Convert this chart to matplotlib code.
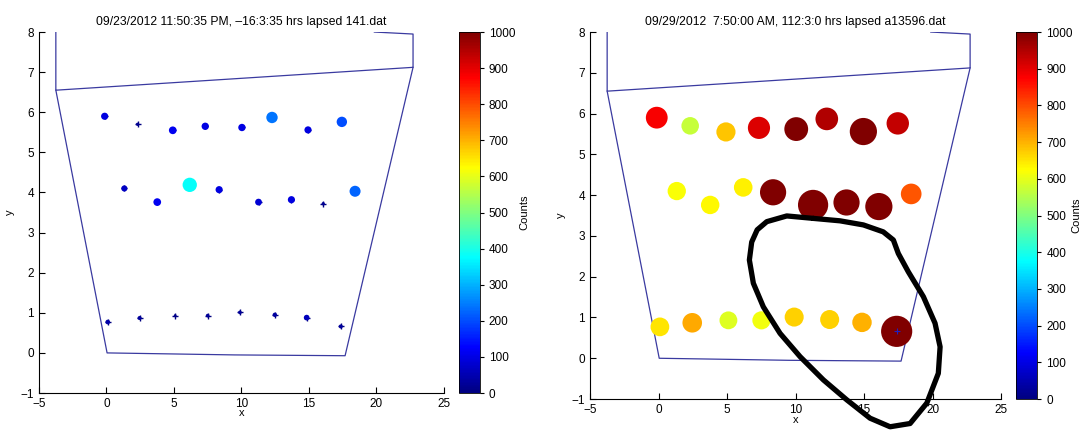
import matplotlib.pyplot as plt
from matplotlib.colors import LinearSegmentedColormap
import numpy as np

plt.rcParams['font.family'] = ['Liberation Sans', 'DejaVu Sans']

# sensor positions (3 rows of 8)
pos_x = [-0.13, 2.31, 4.92, 7.33, 10.05, 12.28, 14.95, 17.46,
         1.33, 3.77, 6.18, 8.36, 11.28, 13.72, 16.08, 18.44,
         0.10, 2.46, 5.10, 7.51, 9.90, 12.49, 14.85, 17.38]
pos_y = [5.90, 5.70, 5.55, 5.65, 5.62, 5.87, 5.56, 5.76,
         4.10, 3.76, 4.19, 4.07, 3.76, 3.82, 3.72, 4.03,
         0.77, 0.87, 0.93, 0.93, 1.01, 0.95, 0.88, 0.66]

counts_left = [95, 20, 110, 100, 100, 240, 95, 200,
               70, 110, 380, 95, 85, 95, 20, 225,
               40, 30, 15, 25, 25, 35, 60, 30]
counts_right = [880, 570, 680, 910, 1050, 950, 1370, 930,
                620, 630, 640, 1270, 1690, 1270, 1370, 790,
                650, 710, 590, 610, 670, 670, 700, 1800]

title_left = "09/23/2012 11:50:35 PM, \u201316:3:35 hrs lapsed 141.dat"
title_right = "09/29/2012  7:50:00 AM, 112:3:0 hrs lapsed a13596.dat"

# tank outline
outline1_x = [-3.75, -3.75, 22.74, 22.74, 19.87]
outline1_y = [8.2, 6.55, 7.12, 7.95, 8.0]
outline2_x = [-3.75, 0.05, 9.5, 17.7, 22.74]
outline2_y = [6.55, 0.0, -0.05, -0.07, 7.12]

# hand drawn loop on the right panel
loop_x = [11.3, 9.36, 7.9, 7.2, 6.8, 6.63, 6.92, 7.65, 8.87, 10.33, 12.03, 13.74,
          15.44, 16.9, 18.36, 19.58, 20.42, 20.55, 20.18, 19.33, 18.23, 17.5,
          17.14, 16.4, 14.95, 13.25, 11.3]
loop_y = [3.43, 3.49, 3.35, 3.15, 2.85, 2.41, 1.84, 1.26, 0.61, 0.04, -0.53, -1.02,
          -1.47, -1.68, -1.6, -1.1, -0.37, 0.28, 0.86, 1.51, 2.12, 2.57,
          2.9, 3.1, 3.27, 3.37, 3.43]

# MATLAB style jet
jet_m = LinearSegmentedColormap('jet_m', {
    'red': [(0, 0, 0), (0.375, 0, 0), (0.625, 1, 1), (0.875, 1, 1), (1, 0.5, 0.5)],
    'green': [(0, 0, 0), (0.125, 0, 0), (0.375, 1, 1), (0.625, 1, 1), (0.875, 0, 0), (1, 0, 0)],
    'blue': [(0, 0.5, 0.5), (0.125, 1, 1), (0.375, 1, 1), (0.625, 0, 0), (1, 0, 0)],
}, N=256)

fig = plt.figure(figsize=(10.86, 4.3), dpi=100)

panels = [
    ([0.0359, 0.086, 0.3725, 0.8395], [0.4227, 0.086, 0.0189, 0.8395], counts_left, title_left, 3),
    ([0.5433, 0.072, 0.3785, 0.8535], [0.9355, 0.072, 0.0198, 0.8535], counts_right, title_right, -1),
]

for i, (axpos, cbpos, counts, title, cpad) in enumerate(panels):
    ax = fig.add_axes(axpos)
    cax = fig.add_axes(cbpos)

    ax.plot(outline1_x, outline1_y, color='#3a3aa0', lw=0.9)
    ax.plot(outline2_x, outline2_y, color='#3a3aa0', lw=0.9)

    ax.scatter(pos_x, pos_y, marker='+', s=22, color='#000080', linewidths=1.0, zorder=2)
    sc = ax.scatter(pos_x, pos_y, s=np.array(counts) * 0.28, c=counts, cmap=jet_m,
                    vmin=0, vmax=1000, linewidths=0, zorder=3)

    if i == 1:
        ax.scatter([pos_x[-1]], [pos_y[-1]], marker='+', s=14, color='#2020c0',
                   linewidths=0.8, zorder=4)
        ax.plot(loop_x, loop_y, color='black', lw=3.8, solid_capstyle='round',
                solid_joinstyle='round', clip_on=False, zorder=5)

    ax.set_xlim(-5, 25)
    ax.set_ylim(-1, 8)
    ax.set_xticks(range(-5, 26, 5))
    ax.set_yticks(range(-1, 9))
    ax.set_xticklabels(['\u22125', '0', '5', '10', '15', '20', '25'])
    ax.set_yticklabels(['\u22121'] + [str(v) for v in range(0, 9)])
    ax.spines['top'].set_visible(False)
    ax.spines['right'].set_visible(False)
    ax.tick_params(direction='in', length=4, labelsize=8.5, width=0.8)
    ax.set_xlabel('x', fontsize=8, labelpad=-1)
    ax.set_ylabel('y', fontsize=8, labelpad=4)
    ax.set_title(title, fontsize=8.7, pad=5)

    cb = fig.colorbar(sc, cax=cax)
    cb.set_ticks(range(0, 1001, 100))
    cb.ax.tick_params(labelsize=8.5, length=3, width=0.8)
    cb.outline.set_linewidth(0.6)
    cb.set_label('Counts', fontsize=8, labelpad=cpad)

fig.savefig('out.png', dpi=100)
